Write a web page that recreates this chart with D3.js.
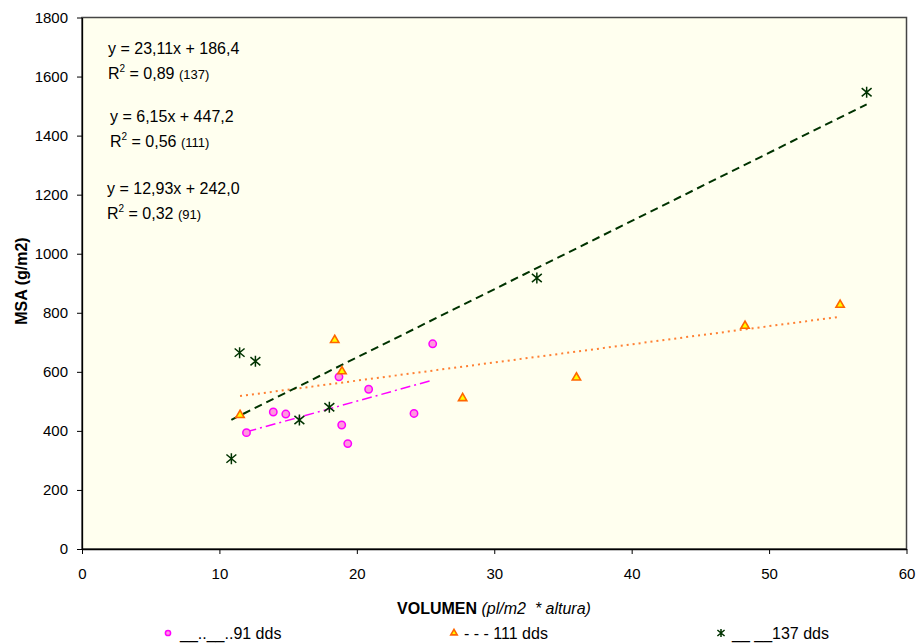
<!DOCTYPE html>
<html>
<head>
<meta charset="utf-8">
<script src="https://cdn.jsdelivr.net/npm/d3@7"></script>
<style>
  body { margin: 0; background: #fff; }
  text { font-family: Arial, "Liberation Sans", sans-serif; fill: #000; }
</style>
</head>
<body>
<div id="plot"></div>
<script>
const W = 917, H = 644;
const margin = {top: 17.5, right: 10.5, bottom: 95, left: 82};
const width = W - margin.left - margin.right;
const height = H - margin.top - margin.bottom;

// 91 dds
const x91 = [11.97, 13.92, 14.83, 18.70, 18.90, 19.34, 20.86, 24.16, 25.52];
const y91 = [394, 464, 457, 583, 420, 357, 541, 459, 695];
// 111 dds
const x111 = [11.50, 18.39, 18.92, 27.70, 35.98, 48.25, 55.17];
const y111 = [457, 711, 605, 514, 584, 759, 830];
// 137 dds
const x137 = [10.87, 11.47, 12.62, 15.82, 18.00, 33.10, 57.10];
const y137 = [306, 665, 636, 437, 480, 918, 1547];

// trend lines (slope, intercept) as printed
const slopes = {s91: 12.93, s111: 6.15, s137: 23.11};
const intercepts = {s91: 242.0, s111: 447.2, s137: 186.4};

const xTicks = [0, 10, 20, 30, 40, 50, 60];
const yTicks = [0, 200, 400, 600, 800, 1000, 1200, 1400, 1600, 1800];

const series = [
  {key: "s91", xs: x91, ys: y91, color: "#ff00ff", dash: "10,4,2,4", lw: 1.5},
  {key: "s111", xs: x111, ys: y111, color: "#ff8033", dash: "2,4", lw: 2},
  {key: "s137", xs: x137, ys: y137, color: "#003300", dash: "8,5", lw: 2}
];

const svg = d3.select("#plot").append("svg")
  .attr("width", W).attr("height", H);

const g = svg.append("g")
  .attr("transform", `translate(${margin.left},${margin.top})`);

const x = d3.scaleLinear().domain([0, 60]).range([0, width]);
const y = d3.scaleLinear().domain([0, 1800]).range([height, 0]);

g.append("rect")
  .attr("width", width).attr("height", height)
  .attr("fill", "#ffffef")
  .attr("stroke", "#454545").attr("stroke-width", 1.5);

const yAxis = g.append("g")
  .call(d3.axisLeft(y).tickValues(yTicks).tickFormat(d3.format("d"))
    .tickSize(5).tickPadding(9).tickSizeOuter(0));
const xAxis = g.append("g")
  .attr("transform", `translate(0,${height})`)
  .call(d3.axisBottom(x).tickValues(xTicks).tickFormat(d3.format("d"))
    .tickSize(5).tickPadding(14).tickSizeOuter(0));

[xAxis, yAxis].forEach(a => {
  a.select(".domain").attr("stroke", "#000").attr("stroke-width", 1.3);
  a.selectAll(".tick line").attr("stroke", "#000");
  a.selectAll("text").style("font-size", "15px")
    .style("font-family", "Arial, 'Liberation Sans', sans-serif");
});

// trend lines
series.forEach(s => {
  const x0 = d3.min(s.xs), x1 = d3.max(s.xs);
  const f = v => slopes[s.key] * v + intercepts[s.key];
  g.append("line")
    .attr("x1", x(x0)).attr("y1", y(f(x0)))
    .attr("x2", x(x1)).attr("y2", y(f(x1)))
    .attr("stroke", s.color)
    .attr("stroke-width", s.lw)
    .attr("stroke-dasharray", s.dash);
});

function drawCircle(sel, r) {
  sel.append("circle").attr("r", r)
    .attr("fill", "#ff99dd").attr("stroke", "#ff00ff").attr("stroke-width", 1.5);
}
function drawTriangle(sel, size) {
  sel.append("path").attr("d", d3.symbol(d3.symbolTriangle, size)())
    .attr("fill", "#ffff00").attr("stroke", "#ff6600").attr("stroke-width", 1.6);
}
function drawStar(sel, r) {
  sel.append("path")
    .attr("d", `M0,${-r}V${r}M${-r * 0.9},${-r * 0.75}L${r * 0.9},${r * 0.75}M${-r * 0.9},${r * 0.75}L${r * 0.9},${-r * 0.75}`)
    .attr("fill", "none").attr("stroke", "#003300").attr("stroke-width", 1.5);
}

d3.range(x91.length).forEach(i => {
  drawCircle(g.append("g").attr("transform", `translate(${x(x91[i])},${y(y91[i])})`), 3.7);
});
d3.range(x111.length).forEach(i => {
  drawTriangle(g.append("g").attr("transform", `translate(${x(x111[i])},${y(y111[i]) + 1})`), 30);
});
d3.range(x137.length).forEach(i => {
  drawStar(g.append("g").attr("transform", `translate(${x(x137[i])},${y(y137[i])})`), 5.5);
});

// equation labels
const eqs = [
  {x: 108, y1: 54, y2: 79, eq: "y = 23,11x + 186,4", r2: "0,89", n: "(137)"},
  {x: 110, y1: 122, y2: 147, eq: "y = 6,15x + 447,2", r2: "0,56", n: "(111)"},
  {x: 107, y1: 194, y2: 219, eq: "y = 12,93x + 242,0", r2: "0,32", n: "(91)"}
];
eqs.forEach(e => {
  svg.append("text").attr("x", e.x).attr("y", e.y1)
    .style("font-size", "16px").text(e.eq);
  const t = svg.append("text").attr("x", e.x).attr("y", e.y2).style("font-size", "16px");
  t.append("tspan").text("R");
  t.append("tspan").attr("dy", -7).style("font-size", "10px").text("2");
  t.append("tspan").attr("dy", 7).text(" = " + e.r2 + " ");
  t.append("tspan").style("font-size", "13px").text(e.n);
});

// axis titles
const xt = svg.append("text")
  .attr("x", 494).attr("y", 614)
  .attr("text-anchor", "middle")
  .attr("xml:space", "preserve")
  .style("font-size", "16px");
xt.append("tspan").style("font-weight", "bold").text("VOLUMEN ");
xt.append("tspan").style("font-style", "italic").text("(pl/m2  * altura)");

svg.append("text")
  .attr("transform", "translate(27,281) rotate(-90)")
  .attr("text-anchor", "middle")
  .style("font-size", "16px").style("font-weight", "bold")
  .text("MSA (g/m2)");

// legend
const legend = [
  {mx: 168, tx: 180, label: "__..__..91 dds", draw: s => drawCircle(s, 2.6)},
  {mx: 454, tx: 464, label: "- - - 111 dds", draw: s => drawTriangle(s, 18)},
  {mx: 721, tx: 732, label: "__ __137 dds", draw: s => drawStar(s, 4)}
];
legend.forEach(l => {
  l.draw(svg.append("g").attr("transform", `translate(${l.mx},633)`));
  svg.append("text").attr("x", l.tx).attr("y", 639)
    .style("font-size", "16px").text(l.label);
});
</script>
</body>
</html>
